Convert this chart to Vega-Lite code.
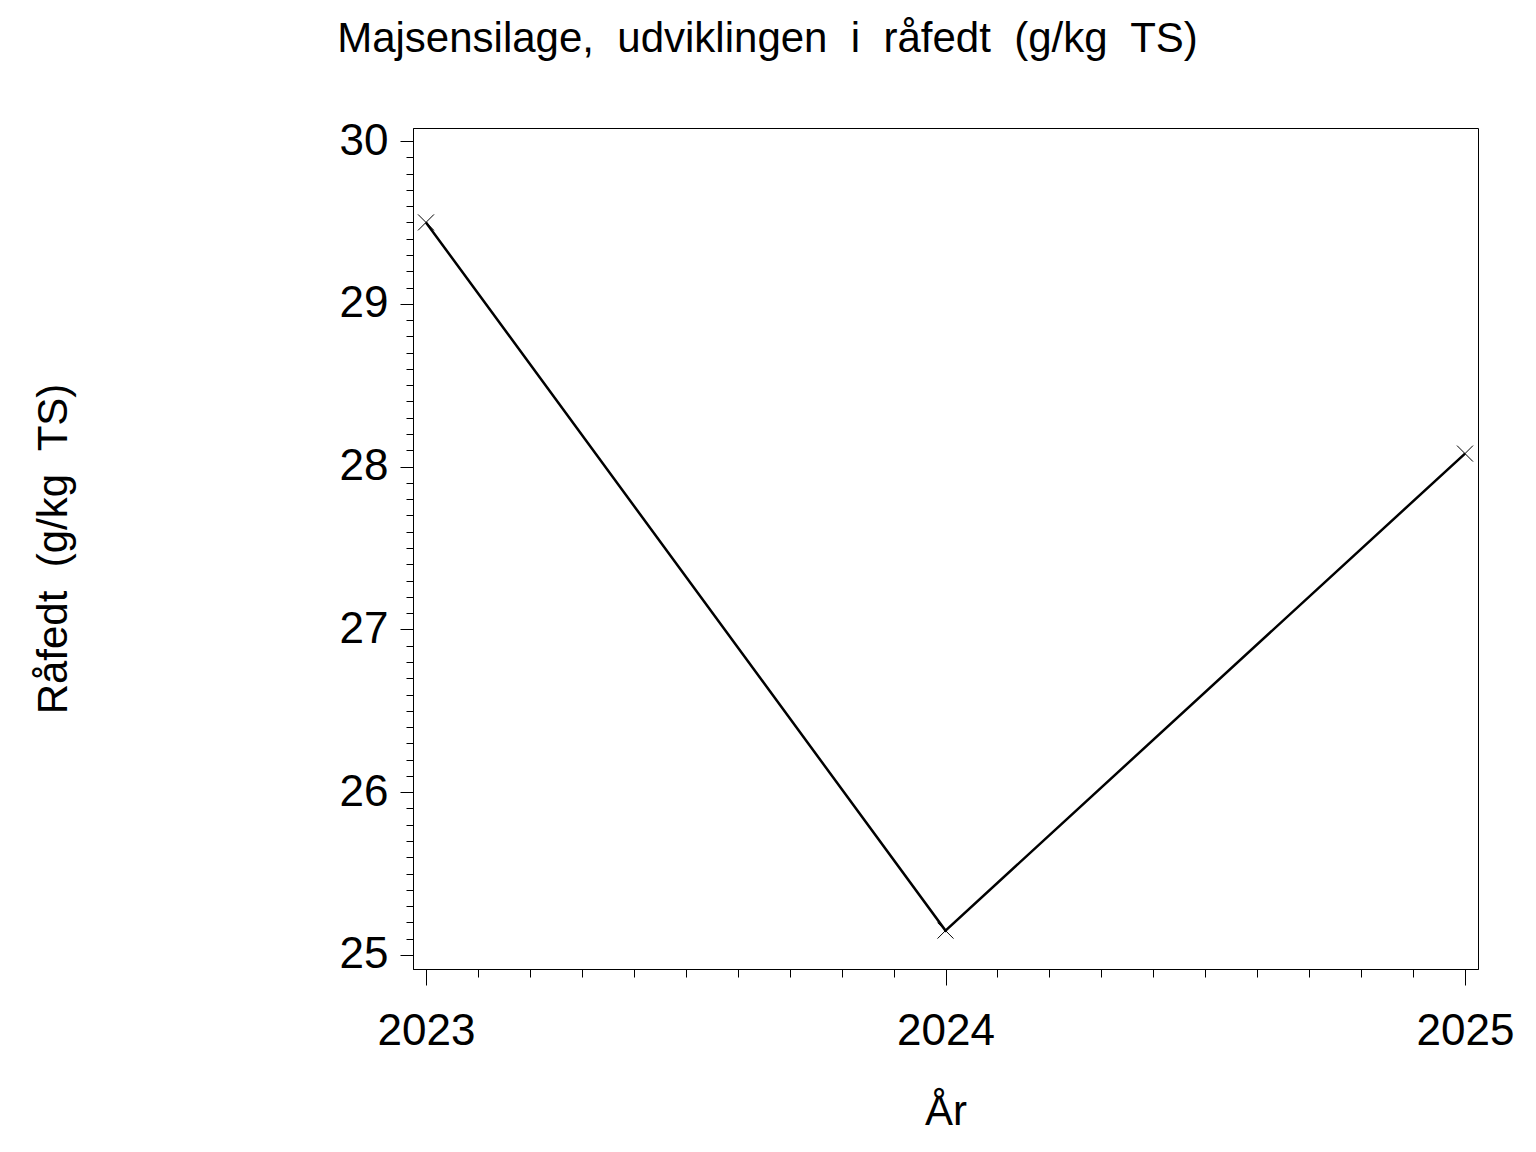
{
  "$schema": "https://vega.github.io/schema/vega-lite/v6.json",
  "width": 1065,
  "height": 841,
  "autosize": {"type": "none"},
  "padding": {"left": 413, "top": 128, "right": 58, "bottom": 183},
  "background": "white",
  "title": {
    "text": "Majsensilage,\u00a0 udviklingen\u00a0 i\u00a0 råfedt\u00a0 (g/kg\u00a0 TS)",
    "font": "Liberation Sans",
    "fontSize": 42,
    "fontWeight": "normal",
    "color": "black",
    "anchor": "middle",
    "dx": -178,
    "offset": 58
  },
  "config": {
    "view": {"stroke": "black", "strokeWidth": 1},
    "axis": {
      "labelFont": "Liberation Sans",
      "titleFont": "Liberation Sans",
      "labelFontSize": 44,
      "titleFontSize": 42,
      "titleFontWeight": "normal",
      "labelColor": "black",
      "titleColor": "black",
      "tickColor": "black",
      "domainColor": "black",
      "grid": false,
      "labelOverlap": false
    }
  },
  "data": {
    "values": [
      {"year": 2023, "value": 29.5},
      {"year": 2024, "value": 25.15},
      {"year": 2025, "value": 28.08}
    ]
  },
  "layer": [
    {
      "mark": {"type": "line", "color": "black", "strokeWidth": 2.5},
      "encoding": {
        "x": {
          "field": "year",
          "type": "quantitative",
          "scale": {"domain": [2022.975, 2025.025], "nice": false, "zero": false},
          "axis": {
            "title": "År",
            "orient": "bottom",
            "values": [2023, 2023.1, 2023.2, 2023.3, 2023.4, 2023.5, 2023.6, 2023.7, 2023.8, 2023.9, 2024, 2024.1, 2024.2, 2024.3, 2024.4, 2024.5, 2024.6, 2024.7, 2024.8, 2024.9, 2025],
            "tickCount": 100,
            "labelExpr": "datum.value % 1 === 0 ? format(datum.value, 'd') : ''",
            "tickSize": {"condition": {"test": "datum.value % 1 === 0", "value": 16}, "value": 8},
            "labelPadding": 24,
            "titlePadding": 38,
            "domain": true,
            "labelFlush": false
          }
        },
        "y": {
          "field": "value",
          "type": "quantitative",
          "scale": {"domain": [24.914, 30.08], "nice": false, "zero": false},
          "axis": {
            "title": "Råfedt\u00a0 (g/kg\u00a0 TS)",
            "orient": "left",
            "values": [25, 25.1, 25.2, 25.3, 25.4, 25.5, 25.6, 25.7, 25.8, 25.9, 26, 26.1, 26.2, 26.3, 26.4, 26.5, 26.6, 26.7, 26.8, 26.9, 27, 27.1, 27.2, 27.3, 27.4, 27.5, 27.6, 27.7, 27.8, 27.9, 28, 28.1, 28.2, 28.3, 28.4, 28.5, 28.6, 28.7, 28.8, 28.9, 29, 29.1, 29.2, 29.3, 29.4, 29.5, 29.6, 29.7, 29.8, 29.9, 30],
            "tickCount": 100,
            "labelExpr": "datum.value % 1 === 0 ? format(datum.value, 'd') : ''",
            "tickSize": {"condition": {"test": "datum.value % 1 === 0", "value": 13}, "value": 7},
            "labelPadding": 12,
            "titlePadding": 264,
            "domain": true,
            "labelFlush": false
          }
        }
      }
    },
    {
      "mark": {"type": "point", "shape": "M-1,-1L1,1M-1,1L1,-1", "size": 256, "stroke": "black", "strokeWidth": 1, "filled": false, "opacity": 1},
      "encoding": {
        "x": {"field": "year", "type": "quantitative"},
        "y": {"field": "value", "type": "quantitative"}
      }
    }
  ]
}
